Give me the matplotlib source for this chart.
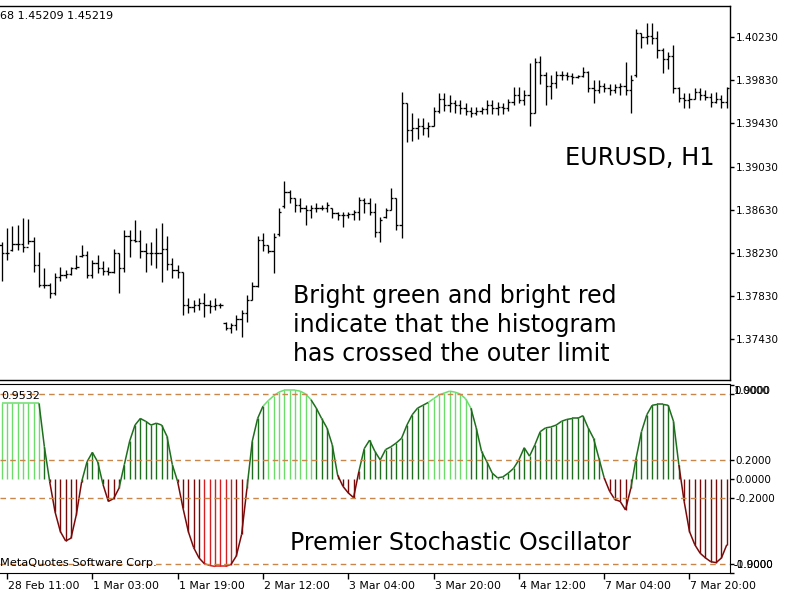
import numpy as np
import matplotlib
matplotlib.use("Agg")
import matplotlib.pyplot as plt
from matplotlib.collections import LineCollection
from matplotlib.transforms import ScaledTranslation

# EURUSD H1 bars
opens = [1.3830, 1.3823, 1.3826, 1.3831, 1.3831, 1.3828, 1.3834, 1.3812, 1.3793, 1.3793,
         1.3786, 1.3801, 1.3802, 1.3803, 1.3809, 1.3820, 1.3821, 1.3802, 1.3814, 1.3809,
         1.3806, 1.3805, 1.3823, 1.3809, 1.3839, 1.3835, 1.3834, 1.3825, 1.3823, 1.3823,
         1.3823, 1.3827, 1.3813, 1.3807, 1.3805, 1.3775, 1.3773, 1.3775, 1.3776, 1.3775,
         1.3774, 1.3775, 1.3758, 1.3753, 1.3756, 1.3762, 1.3767, 1.3779, 1.3792, 1.3835,
         1.3830, 1.3825, 1.3840, 1.3866, 1.3879, 1.3874, 1.3867, 1.3865, 1.3863, 1.3865,
         1.3865, 1.3865, 1.3865, 1.3860, 1.3858, 1.3858, 1.3859, 1.3861, 1.3872, 1.3869,
         1.3861, 1.3842, 1.3856, 1.3863, 1.3874, 1.3849, 1.3962, 1.3937, 1.3939, 1.3941,
         1.3939, 1.3941, 1.3955, 1.3966, 1.3960, 1.3962, 1.3960, 1.3957, 1.3955, 1.3953,
         1.3955, 1.3956, 1.3960, 1.3957, 1.3958, 1.3957, 1.3963, 1.3969, 1.3965, 1.3969,
         1.3953, 1.4000, 1.3988, 1.3978, 1.3981, 1.3988, 1.3988, 1.3987, 1.3986, 1.3987,
         1.3991, 1.3976, 1.3974, 1.3978, 1.3976, 1.3974, 1.3977, 1.3978, 1.3974, 1.3988,
         1.4027, 1.4023, 1.4024, 1.4022, 1.4011, 1.4003, 1.4006, 1.3976, 1.3967, 1.3965,
         1.3966, 1.3972, 1.3969, 1.3968, 1.3963, 1.3966, 1.3963]
highs = [1.3833, 1.3846, 1.3848, 1.3849, 1.3855, 1.3854, 1.3838, 1.3824, 1.3809, 1.3795,
         1.3804, 1.3810, 1.3807, 1.3810, 1.3821, 1.3830, 1.3825, 1.3816, 1.3821, 1.3815,
         1.3810, 1.3827, 1.3823, 1.3844, 1.3844, 1.3853, 1.3844, 1.3832, 1.3833, 1.3846,
         1.3851, 1.3839, 1.3818, 1.3812, 1.3805, 1.3781, 1.3779, 1.3781, 1.3786, 1.3779,
         1.3781, 1.3776, 1.3759, 1.3758, 1.3765, 1.3770, 1.3784, 1.3796, 1.3839, 1.3841,
         1.3830, 1.3841, 1.3865, 1.3890, 1.3881, 1.3874, 1.3874, 1.3867, 1.3867, 1.3869,
         1.3867, 1.3870, 1.3865, 1.3861, 1.3861, 1.3861, 1.3863, 1.3875, 1.3874, 1.3874,
         1.3869, 1.3856, 1.3865, 1.3883, 1.3874, 1.3972, 1.3962, 1.3953, 1.3948, 1.3948,
         1.3944, 1.3958, 1.3971, 1.3971, 1.3969, 1.3965, 1.3965, 1.3962, 1.3958, 1.3958,
         1.3958, 1.3965, 1.3965, 1.3963, 1.3962, 1.3966, 1.3977, 1.3977, 1.3974, 1.3999,
         1.4004, 1.4006, 1.3991, 1.3988, 1.3992, 1.3992, 1.3991, 1.3990, 1.3988, 1.3995,
         1.3992, 1.3983, 1.3983, 1.3981, 1.3980, 1.3980, 1.3981, 1.4000, 1.3988, 1.4031,
         1.4027, 1.4036, 1.4036, 1.4029, 1.4013, 1.4009, 1.4016, 1.3977, 1.3971, 1.3971,
         1.3976, 1.3976, 1.3974, 1.3971, 1.3972, 1.3969, 1.3977]
lows = [1.3797, 1.3816, 1.3825, 1.3826, 1.3824, 1.3831, 1.3805, 1.3791, 1.3790, 1.3781,
        1.3784, 1.3797, 1.3800, 1.3802, 1.3808, 1.3819, 1.3800, 1.3800, 1.3804, 1.3802,
        1.3802, 1.3804, 1.3786, 1.3805, 1.3819, 1.3833, 1.3818, 1.3805, 1.3812, 1.3809,
        1.3796, 1.3807, 1.3800, 1.3800, 1.3765, 1.3767, 1.3768, 1.3770, 1.3763, 1.3767,
        1.3770, 1.3772, 1.3751, 1.3749, 1.3751, 1.3745, 1.3759, 1.3779, 1.3791, 1.3825,
        1.3823, 1.3804, 1.3839, 1.3865, 1.3869, 1.3861, 1.3861, 1.3849, 1.3855, 1.3861,
        1.3863, 1.3861, 1.3855, 1.3853, 1.3847, 1.3855, 1.3853, 1.3853, 1.3860, 1.3858,
        1.3838, 1.3833, 1.3855, 1.3863, 1.3844, 1.3837, 1.3926, 1.3927, 1.3929, 1.3932,
        1.3930, 1.3941, 1.3953, 1.3955, 1.3954, 1.3953, 1.3952, 1.3951, 1.3949, 1.3951,
        1.3952, 1.3952, 1.3952, 1.3951, 1.3952, 1.3955, 1.3960, 1.3962, 1.3960, 1.3941,
        1.3953, 1.3980, 1.3960, 1.3966, 1.3976, 1.3983, 1.3983, 1.3980, 1.3985, 1.3986,
        1.3972, 1.3962, 1.3971, 1.3972, 1.3969, 1.3971, 1.3969, 1.3969, 1.3953, 1.3986,
        1.4013, 1.4017, 1.4017, 1.4004, 1.3990, 1.3994, 1.3971, 1.3963, 1.3957, 1.3957,
        1.3966, 1.3965, 1.3965, 1.3958, 1.3962, 1.3957, 1.3957]
closes = [1.3823, 1.3823, 1.3831, 1.3831, 1.3828, 1.3834, 1.3812, 1.3793, 1.3793, 1.3786,
          1.3801, 1.3802, 1.3803, 1.3809, 1.3810, 1.3821, 1.3802, 1.3814, 1.3809, 1.3806,
          1.3805, 1.3823, 1.3809, 1.3839, 1.3835, 1.3834, 1.3825, 1.3823, 1.3823, 1.3823,
          1.3827, 1.3813, 1.3807, 1.3805, 1.3775, 1.3773, 1.3775, 1.3776, 1.3775, 1.3774,
          1.3775, 1.3775, 1.3753, 1.3756, 1.3762, 1.3767, 1.3779, 1.3792, 1.3835, 1.3830,
          1.3825, 1.3838, 1.3861, 1.3879, 1.3874, 1.3867, 1.3865, 1.3863, 1.3865, 1.3865,
          1.3865, 1.3867, 1.3860, 1.3858, 1.3858, 1.3859, 1.3861, 1.3872, 1.3869, 1.3861,
          1.3842, 1.3853, 1.3863, 1.3874, 1.3849, 1.3962, 1.3937, 1.3939, 1.3941, 1.3939,
          1.3941, 1.3955, 1.3966, 1.3960, 1.3962, 1.3960, 1.3957, 1.3955, 1.3953, 1.3955,
          1.3956, 1.3960, 1.3957, 1.3958, 1.3957, 1.3963, 1.3969, 1.3965, 1.3969, 1.3953,
          1.4000, 1.3988, 1.3978, 1.3981, 1.3988, 1.3988, 1.3987, 1.3986, 1.3987, 1.3991,
          1.3976, 1.3974, 1.3978, 1.3976, 1.3974, 1.3977, 1.3978, 1.3974, 1.3983, 1.4027,
          1.4023, 1.4024, 1.4022, 1.4011, 1.4003, 1.4006, 1.3976, 1.3967, 1.3965, 1.3966,
          1.3972, 1.3969, 1.3968, 1.3963, 1.3966, 1.3963, 1.3976]

# Premier Stochastic Oscillator, one value per bar
pso = [0.80, 0.80, 0.80, 0.80, 0.80, 0.80, 0.80, 0.80, 0.34, -0.03,
       -0.35, -0.56, -0.66, -0.63, -0.38, -0.03, 0.18, 0.28, 0.18, -0.06,
       -0.24, -0.21, -0.10, 0.15, 0.40, 0.57, 0.64, 0.61, 0.57, 0.59,
       0.57, 0.45, 0.15, -0.03, -0.31, -0.56, -0.73, -0.84, -0.90, -0.92,
       -0.93, -0.93, -0.93, -0.91, -0.82, -0.59, -0.10, 0.40, 0.64, 0.77,
       0.83, 0.88, 0.92, 0.94, 0.94, 0.94, 0.93, 0.90, 0.84, 0.75,
       0.64, 0.54, 0.36, 0.04, -0.08, -0.15, -0.20, 0.08, 0.32, 0.41,
       0.29, 0.20, 0.31, 0.34, 0.38, 0.43, 0.57, 0.68, 0.75, 0.78,
       0.81, 0.85, 0.89, 0.91, 0.93, 0.92, 0.90, 0.85, 0.75, 0.54,
       0.29, 0.18, 0.06, 0.01, 0.02, 0.06, 0.11, 0.20, 0.33, 0.24,
       0.36, 0.50, 0.54, 0.55, 0.57, 0.61, 0.63, 0.64, 0.64, 0.67,
       0.54, 0.43, 0.22, 0.01, -0.13, -0.22, -0.24, -0.33, -0.10, 0.22,
       0.50, 0.68, 0.78, 0.79, 0.79, 0.78, 0.61, 0.15, -0.24, -0.56,
       -0.70, -0.79, -0.84, -0.88, -0.89, -0.84, -0.70]

levels = [0.9, 0.2, -0.2, -0.9]
price_ticks = [1.37430, 1.37830, 1.38230, 1.38630, 1.39030, 1.39430, 1.39830, 1.40230]
time_ticks = [1, 17, 33, 49, 65, 81, 97, 113, 129]
time_labels = ["28 Feb 11:00", "1 Mar 03:00", "1 Mar 19:00", "2 Mar 12:00", "3 Mar 04:00",
               "3 Mar 20:00", "4 Mar 12:00", "7 Mar 04:00", "7 Mar 20:00"]

plt.rcParams['font.family'] = ['DejaVu Sans']
W, H = 800, 600
fig = plt.figure(figsize=(8, 6), dpi=100)
ax = fig.add_axes([0, 1 - 380 / H, 730 / W, (380 - 6) / H])
ax2 = fig.add_axes([0, 1 - 573 / H, 730 / W, (573 - 384) / H])

idx = np.arange(len(closes))
xlim = (-0.32, 136.6)

# price bars
ax.vlines(idx, lows, highs, color='black', lw=0.95)
ax.hlines(opens, idx - 0.42, idx, color='black', lw=0.95)
ax.hlines(closes, idx, idx + 0.42, color='black', lw=0.95)
ax.set_xlim(*xlim)
ax.set_ylim(1.3705, 1.4052)
ax.set_xticks([])
ax.yaxis.tick_right()
ax.set_yticks(price_ticks)
ax.set_yticklabels(["%.5f" % p for p in price_ticks])
ax.tick_params(axis='y', direction='out', length=3, width=1, pad=1, labelsize=7.5)
ax.spines['left'].set_visible(False)
for s in ['top', 'right', 'bottom']:
    ax.spines[s].set_linewidth(1)

# oscillator
vals = np.array(pso)
dark_g, bright_g = '#1e6e1e', '#6ddc6d'
dark_r, bright_r = '#7a0a0a', '#d42020'

def col(v):
    if v >= 0.8:
        return bright_g
    if v >= 0:
        return dark_g
    if v <= -0.9:
        return bright_r
    return dark_r

ax2.vlines(idx, 0, vals, colors=[col(v) for v in vals], lw=1.0)
segs = [[(idx[i], vals[i]), (idx[i + 1], vals[i + 1])] for i in range(len(vals) - 1)]
seg_cols = [col((vals[i] + vals[i + 1]) / 2) for i in range(len(vals) - 1)]
ax2.add_collection(LineCollection(segs, colors=seg_cols, lw=1.1))
for lv in levels:
    ax2.axhline(lv, color='#c8864a', lw=1, dashes=(4, 3))
ax2.set_xlim(*xlim)
ax2.set_ylim(-0.997, 1.006)
ax2.yaxis.tick_right()
ax2.set_yticks([1.0, 0.9, 0.2, 0.0, -0.2, -0.9, -1.0])
ax2.set_yticklabels(['', '', '0.2000', '0.0000', '-0.2000', '', ''])
ax2.tick_params(axis='y', direction='out', length=3, width=1, pad=1, labelsize=7.5)
for t in ["1.0000", "0.9000"]:
    fig.text(734 / W, 1 - 391 / H, t, fontsize=7.5, va='center', ha='left')
for t in ["-1.0000", "-0.9000"]:
    fig.text(734 / W, 1 - 565 / H, t, fontsize=7.5, va='center', ha='left')
ax2.set_xticks(time_ticks)
ax2.set_xticklabels(time_labels)
ax2.tick_params(axis='x', direction='out', length=4, width=1, pad=2, labelsize=7.8)
off = ScaledTranslation(1 / 100, 0, fig.dpi_scale_trans)
for lab in ax2.get_xticklabels():
    lab.set_ha('left')
    lab.set_transform(lab.get_transform() + off)
ax2.spines['left'].set_visible(False)

# annotations
fig.text(0, 1 - 16 / H, "68 1.45209 1.45219", fontsize=8, va='center', ha='left')
fig.text(1 / W, 1 - 396 / H, "0.9532", fontsize=8, va='center', ha='left')
fig.text(0, 1 - 563 / H, "MetaQuotes Software Corp.", fontsize=8.2, va='center', ha='left')
fig.text(715 / W, 1 - 158 / H, "EURUSD, H1", fontsize=17.3, va='center', ha='right')
for i, line in enumerate(["Bright green and bright red",
                          "indicate that the histogram",
                          "has crossed the outer limit"]):
    fig.text(293 / W, 1 - (296 + 29 * i) / H, line, fontsize=17, va='center', ha='left')
fig.text(290 / W, 1 - 543 / H, "Premier Stochastic Oscillator", fontsize=17, va='center', ha='left')

fig.savefig("out.png", dpi=100)
